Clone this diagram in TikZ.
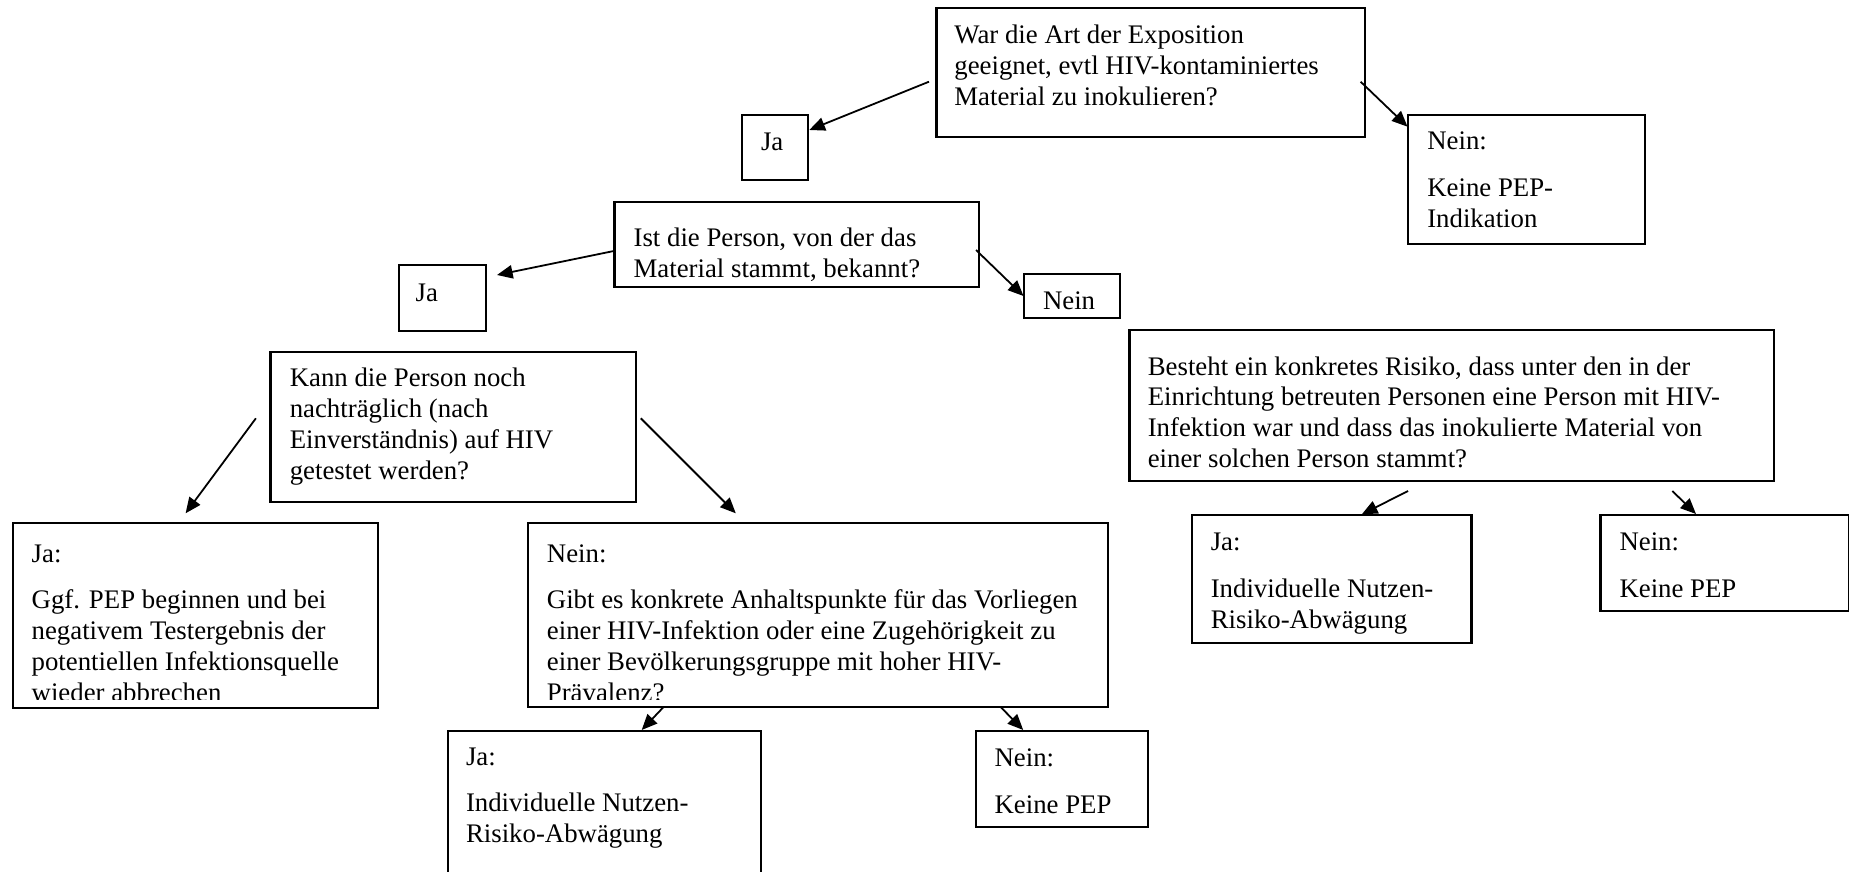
\documentclass[tikz,border=0pt]{standalone}
\usepackage{fontspec}
\setmainfont{Liberation Serif}
\usetikzlibrary{arrows.meta,calc,fit}
\newcommand{\mystrut}{\rule{0pt}{10pt}}
\begin{document}
\begin{tikzpicture}[x=0.4478pt,y=-0.4478pt,
  box/.style={draw, line width=1pt, inner sep=0pt, outer sep=0pt},
  txt/.style={inner sep=0pt, outer sep=0pt, anchor=north west, align=left, font=\fontsize{12pt}{13.79pt}\selectfont},
  arr/.style={line width=0.8pt, -{Triangle[length=7pt,width=6pt]}}]
\useasboundingbox (0,0) rectangle (1849,872);
\clip (0,0) rectangle (1849,872);

% boxes
\node[box, fit={(936.5,8.3) (1365,136.7)}] (A) {};
\node[box, fit={(742.3,115) (808,180)}] (JaA) {};
\node[box, fit={(1408.3,115) (1645,244.3)}] (NeinA) {};
\node[box, fit={(614.4,201.7) (979,287.3)}] (B) {};
\node[box, fit={(398.75,265) (486.25,330.7)}] (JaB) {};
\node[box, fit={(1024,274.3) (1120,317.7)}] (NeinB) {};
\node[box, fit={(270.5,351.7) (635.9,501.7)}] (C) {};
\node[box, fit={(1129.6,330) (1773.6,481)}] (D) {};
\node[box, fit={(13.3,523.3) (378.3,708)}] (E) {};
\node[box, fit={(527.7,523.3) (1108,707.3)}] (F) {};
\node[box, fit={(1192.2,515) (1471.6,643.3)}] (G) {};
\node[box, fit={(1600.4,515) (1849,611)}] (H) {};
\node[box, fit={(448.3,731) (760.7,900)}] (I) {};
\node[box, fit={(975.9,730.7) (1148.2,826.7)}] (J) {};

% texts
\node[txt] (At) at (954.4, 43.5-22.33) {\mystrut War die Art der Exposition\\geeignet, evtl HIV-kontaminiertes\\Material zu inokulieren?};
\node[txt] (JaAt) at (761, 150.7-22.33) {\mystrut Ja};
\node[txt] (NeinAt) at (1427.3, 150-22.33) {\mystrut Nein:\\[7.1pt]Keine PEP-\\Indikation};
\node[txt] (Bt) at (633.6, 246.7-22.33) {\mystrut Ist die Person, von der das\\Material stammt, bekannt?};
\node[txt] (JaBt) at (415.7, 301.7-22.33) {\mystrut Ja};
\node[txt] (NeinBt) at (1043, 309-22.33) {\mystrut Nein};
\node[txt] (Ct) at (289.8, 386.7-22.33) {\mystrut Kann die Person noch\\nachträglich (nach\\Einverständnis) auf HIV\\getestet werden?};
\node[txt] (Dt) at (1147.8, 375-22.33) {\mystrut Besteht ein konkretes Risiko, dass unter den in der\\Einrichtung betreuten Personen eine Person mit HIV-\\Infektion war und dass das inokulierte Material von\\einer solchen Person stammt?};
\begin{scope}
\clip (0,0) rectangle (1849,699);
\node[txt] (Et) at (31.7, 562-22.33) {\mystrut Ja:\\[7.1pt]Ggf. PEP beginnen und bei\\negativem Testergebnis der\\potentiellen Infektionsquelle\\wieder abbrechen};
\node[txt] (Ft) at (546.9, 562-22.33) {\mystrut Nein:\\[7.1pt]Gibt es konkrete Anhaltspunkte für das Vorliegen\\einer HIV-Infektion oder eine Zugehörigkeit zu\\einer Bevölkerungsgruppe mit hoher HIV-\\Prävalenz?};
\end{scope}
\node[txt] (Gt) at (1210.8, 550.7-22.33) {\mystrut Ja:\\[7.1pt]Individuelle Nutzen-\\Risiko-Abwägung};
\node[txt] (Ht) at (1619.5, 550.7-22.33) {\mystrut Nein:\\[7.1pt]Keine PEP};
\node[txt] (It) at (466, 765-22.33) {\mystrut Ja:\\[7.1pt]Individuelle Nutzen-\\Risiko-Abwägung};
\node[txt] (Jt) at (994.6, 766.7-22.33) {\mystrut Nein:\\[7.1pt]Keine PEP};

% arrows
\draw[arr] ($(A.north west)+(-7.5,73.4)$) -- ($(JaA.north east)+(1.3,15)$);
\draw[arr] ($(A.north east)+(-4.4,73.4)$) -- ($(NeinA.north west)+(-0.8,11.7)$);
\draw[arr] ($(B.north west)+(0.9,49)$) -- ($(JaB.north east)+(10.75,10)$);
\draw[arr] ($(B.north east)+(-3,48.3)$) -- ($(NeinB.north west)+(-0.5,21.7)$);
\draw[arr] ($(C.north west)+(-14.6,66.6)$) -- ($(E.north west)+(172.3,-10)$);
\draw[arr] ($(C.north east)+(4.9,66.6)$) -- ($(F.north west)+(208.1,-10)$);
\draw[arr] ($(D.south west)+(278.5,10)$) -- ($(G.north west)+(169.6,-0.7)$);
\draw[arr] ($(D.south west)+(542.7,10)$) -- ($(H.north west)+(95.6,-1)$);
\draw[arr] ($(F.south west)+(135.6,0)$) -- ($(I.north west)+(193.4,-1)$);
\draw[arr] ($(F.south west)+(473.2,0)$) -- ($(J.north west)+(47.3,-0.7)$);
\end{tikzpicture}
\end{document}
